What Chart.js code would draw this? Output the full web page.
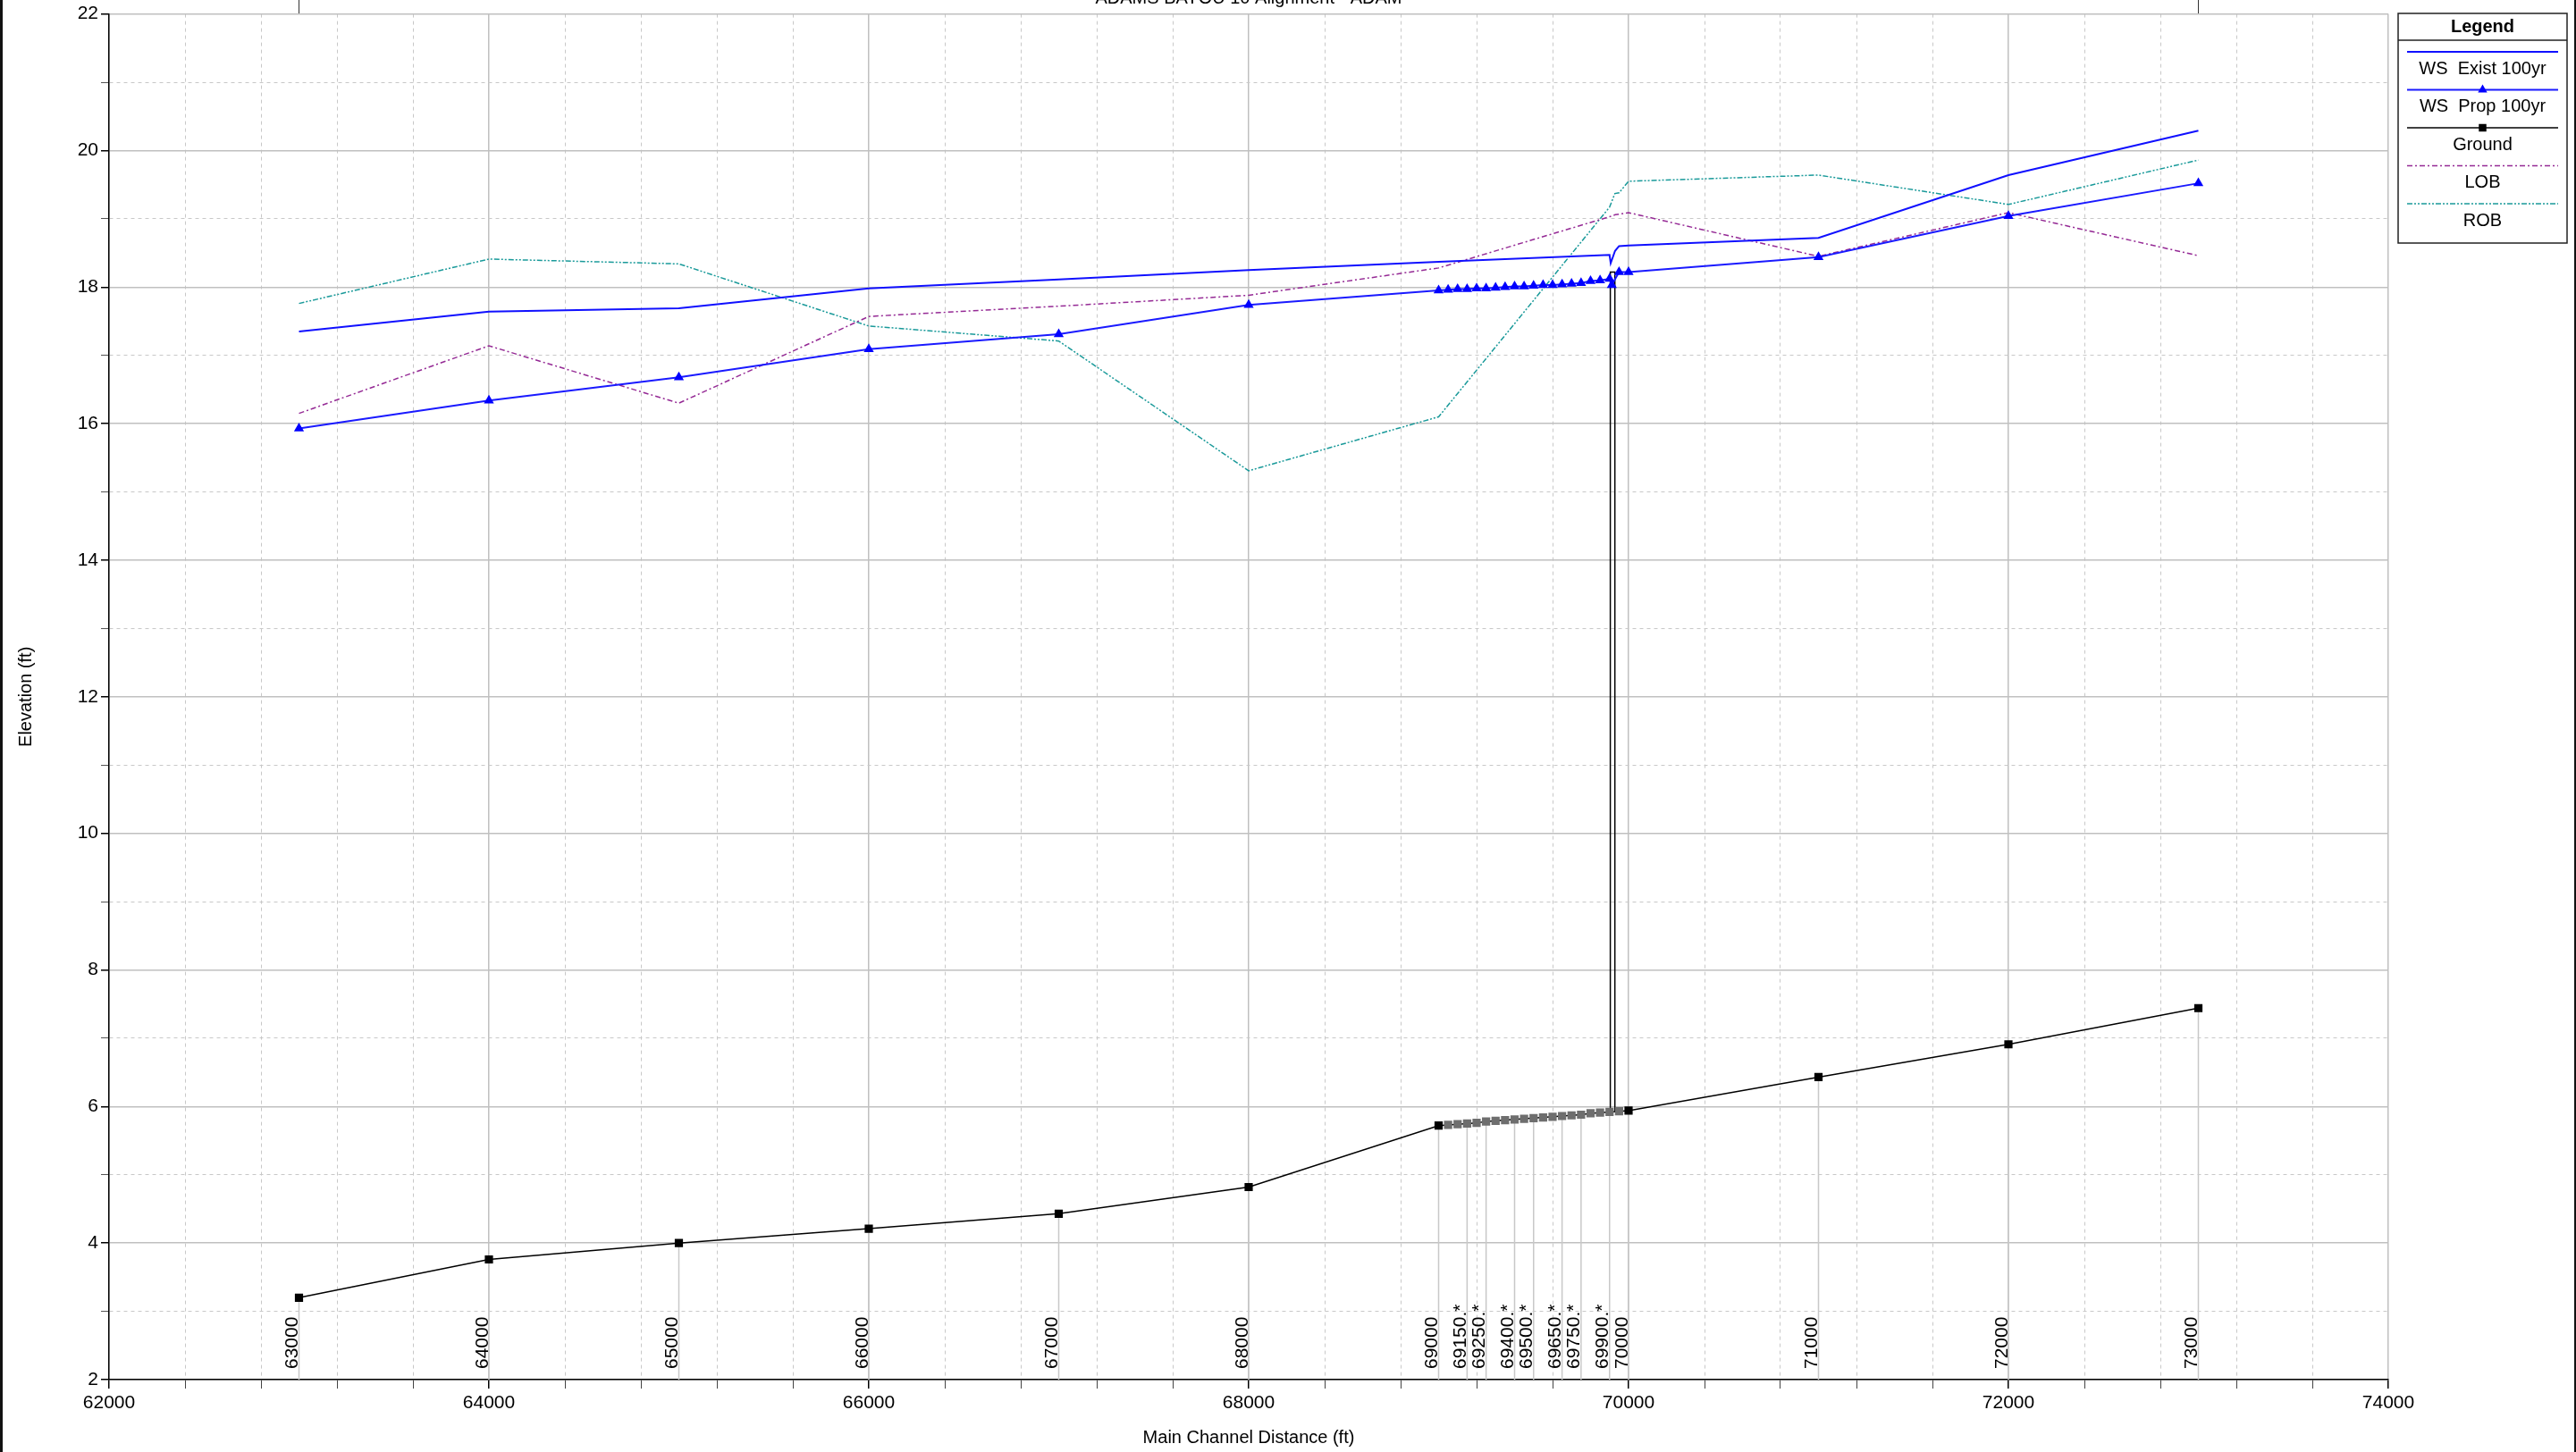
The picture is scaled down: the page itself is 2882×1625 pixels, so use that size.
<!DOCTYPE html>
<html>
<head>
<meta charset="utf-8">
<title>ADAMS BAYOU profile</title>
<script src="https://cdn.jsdelivr.net/npm/chart.js@4.4.1/dist/chart.umd.min.js"></script>
<style>
  html, body { margin: 0; padding: 0; background: #fff; }
  #wrap { width: 2882px; height: 1625px; position: relative; }
</style>
</head>
<body>
<div id="wrap"><canvas id="profileChart" width="2882" height="1625"></canvas></div>
<script>
//  Plot title (only the bottom of it shows on the picture)
const plotTitle = "ADAMS BAYOU 10 Alignment - ADAM";

//  WS Exist 100yr
const existStations = [63000, 64000, 65000, 66000, 67000, 68000, 69000, 69900, 69906, 69929, 69950, 70000, 71000, 72000, 73000];
const existElev = [17.35, 17.64, 17.69, 17.98, 18.11, 18.25, 18.37, 18.47, 18.35, 18.53, 18.60, 18.61, 18.72, 19.64, 20.29];

//  WS Prop 100yr
const propStations = [63000, 64000, 65000, 66000, 67000, 68000, 69000, 69050, 69100, 69150, 69200, 69250, 69300, 69350, 69400, 69450, 69500, 69550, 69600, 69650, 69700, 69750, 69800, 69850, 69900, 69912, 69950, 70000, 71000, 72000, 73000];
const propElev = [15.93, 16.34, 16.68, 17.09, 17.31, 17.74, 17.95, 17.96, 17.97, 17.97, 17.98, 17.98, 17.99, 18.00, 18.01, 18.01, 18.02, 18.03, 18.03, 18.04, 18.05, 18.06, 18.09, 18.10, 18.12, 18.03, 18.22, 18.22, 18.44, 19.04, 19.52];

//  Ground (stations between 69000 and 70000 are interpolated sections)
const groundStations = [63000, 64000, 65000, 66000, 67000, 68000, 69000, 69050, 69100, 69150, 69200, 69250, 69300, 69350, 69400, 69450, 69500, 69550, 69600, 69650, 69700, 69750, 69800, 69850, 69900, 69950, 70000, 71000, 72000, 73000];
const groundElev = [3.20, 3.76, 4.00, 4.21, 4.43, 4.82, 5.72, 5.73, 5.74, 5.75, 5.76, 5.78, 5.79, 5.80, 5.81, 5.82, 5.83, 5.84, 5.85, 5.86, 5.87, 5.88, 5.90, 5.91, 5.92, 5.93, 5.94, 6.43, 6.91, 7.44];

//  Left / right overbank
const lobStations = [63000, 64000, 65000, 66000, 67000, 68000, 69000, 69900, 69930, 70000, 71000, 72000, 73000];
const lobElev = [16.15, 17.14, 16.30, 17.57, 17.72, 17.88, 18.28, 19.03, 19.06, 19.09, 18.45, 19.09, 18.46];
const robStations = [63000, 64000, 65000, 66000, 67000, 68000, 69000, 69900, 69928, 69950, 70000, 71000, 72000, 73000];
const robElev = [17.76, 18.41, 18.34, 17.43, 17.21, 15.31, 16.10, 19.17, 19.37, 19.38, 19.55, 19.64, 19.21, 19.86];

//  Bridge outline
const bridgeStations = [69904, 69904, 69928, 69928];
const bridgeElev = [5.92, 18.22, 18.22, 5.92];

//  Station labels along the bottom
const stationLabels = ["63000", "64000", "65000", "66000", "67000", "68000", "69000", "69150.*", "69250.*", "69400.*", "69500.*", "69650.*", "69750.*", "69900.*", "70000", "71000", "72000", "73000"];

//  Axes
const xMin = 62000, xMax = 74000, xStep = 400, xLabelEvery = 2000;
const yMin = 2, yMax = 22, yStep = 1, yLabelEvery = 2;

const FONT = "'Liberation Sans', Arial, sans-serif";
const pts = (xs, ys) => xs.map((x, i) => ({ x: x, y: ys[i] }));

//  Gray vertical station lines + rotated labels
const stationPlugin = {
    id: "stationLines",
    beforeDatasetsDraw(chart) {
        const { ctx, scales: { x, y } } = chart;
        ctx.save();
        stationLabels.forEach(label => {
            const st = parseFloat(label);
            const px = x.getPixelForValue(st);
            const gi = groundStations.indexOf(st);
            const top = y.getPixelForValue(groundElev[gi]);
            ctx.strokeStyle = "#c8c8c8";
            ctx.lineWidth = 1.5;
            ctx.beginPath();
            ctx.moveTo(px, y.bottom);
            ctx.lineTo(px, top);
            ctx.stroke();

            ctx.save();
            ctx.translate(px - 1.5, y.bottom - 12);
            ctx.rotate(-Math.PI / 2);
            ctx.fillStyle = "#000";
            ctx.font = "21px " + FONT;
            ctx.textAlign = "left";
            ctx.textBaseline = "alphabetic";
            ctx.fillText(label, 0, 0);
            ctx.restore();
        });
        ctx.restore();
    }
};

//  Frame bits, cut-off title and the boxed legend
const framePlugin = {
    id: "frame",
    afterDraw(chart) {
        const ctx = chart.ctx;
        ctx.save();
        // left / right page borders
        ctx.fillStyle = "#111";
        ctx.fillRect(0, 0, 3, 1625);
        ctx.fillRect(2880, 0, 2, 1625);

        // title box sides and text
        ctx.strokeStyle = "#333";
        ctx.lineWidth = 1;
        ctx.beginPath();
        ctx.moveTo(334.5, 0); ctx.lineTo(334.5, 15);
        ctx.moveTo(2459.5, 0); ctx.lineTo(2459.5, 15);
        ctx.stroke();
        ctx.fillStyle = "#000";
        ctx.font = "20px " + FONT;
        ctx.textAlign = "center";
        ctx.textBaseline = "alphabetic";
        ctx.fillText(plotTitle, 1397, 4);

        // legend
        const x0 = 2683, y0 = 15, w = 189, h = 257;
        ctx.fillStyle = "#fff";
        ctx.fillRect(x0, y0, w, h);
        ctx.strokeStyle = "#222";
        ctx.lineWidth = 1.5;
        ctx.strokeRect(x0, y0, w, h);
        ctx.beginPath();
        ctx.moveTo(x0, y0 + 30);
        ctx.lineTo(x0 + w, y0 + 30);
        ctx.stroke();
        ctx.fillStyle = "#000";
        ctx.font = "bold 20px " + FONT;
        ctx.textBaseline = "middle";
        ctx.fillText("Legend", x0 + w / 2, y0 + 15);

        const cx = x0 + w / 2;
        const items = chart.data.datasets.filter(d => d.inLegend !== false);
        items.forEach((ds, i) => {
            const ly = y0 + 43 + i * 42.5;
            ctx.strokeStyle = ds.borderColor;
            ctx.lineWidth = ds.borderWidth;
            ctx.setLineDash(ds.borderDash || []);
            ctx.beginPath();
            ctx.moveTo(x0 + 10, ly);
            ctx.lineTo(x0 + w - 10, ly);
            ctx.stroke();
            ctx.setLineDash([]);
            if (ds.legendMarker) {
                const r = 6;
                ctx.fillStyle = ds.legendMarkerColor;
                ctx.beginPath();
                if (ds.legendMarker === "triangle") {
                    ctx.moveTo(cx, ly - r);
                    ctx.lineTo(cx + r * 0.866, ly + r * 0.5);
                    ctx.lineTo(cx - r * 0.866, ly + r * 0.5);
                    ctx.closePath();
                } else {
                    const s = r * Math.SQRT1_2;
                    ctx.rect(cx - s, ly - s, 2 * s, 2 * s);
                }
                ctx.fill();
            }
            ctx.fillStyle = "#000";
            ctx.font = "20px " + FONT;
            ctx.fillText(ds.label, cx, ly + 19);
        });
        ctx.restore();
    }
};

const isMinor = (c, every) => c.tick && Math.abs(c.tick.value % every) > 1e-6;

new Chart(document.getElementById("profileChart").getContext("2d"), {
    type: "scatter",
    data: {
        datasets: [
            {
                label: "WS  Exist 100yr",
                data: pts(existStations, existElev),
                showLine: true,
                borderColor: "#1010ff",
                borderWidth: 2,
                pointRadius: 0
            },
            {
                label: "WS  Prop 100yr",
                data: pts(propStations, propElev),
                showLine: true,
                borderColor: "#1a1aff",
                borderWidth: 2,
                pointStyle: "triangle",
                pointRadius: 6.5,
                pointBorderWidth: 0,
                pointBackgroundColor: "#0000ff",
                legendMarker: "triangle",
                legendMarkerColor: "#0000ff"
            },
            {
                label: "Ground",
                data: pts(groundStations, groundElev),
                showLine: true,
                borderColor: "#000",
                borderWidth: 1.5,
                pointStyle: "rect",
                pointRadius: 6.5,
                pointBorderWidth: 0,
                pointBackgroundColor: c => {
                    const st = groundStations[c.dataIndex];
                    return (st > 69000 && st < 70000) ? "#6e6e6e" : "#000";
                },
                legendMarker: "rect",
                legendMarkerColor: "#000"
            },
            {
                label: "LOB",
                data: pts(lobStations, lobElev),
                showLine: true,
                borderColor: "#952a95",
                borderWidth: 1.5,
                borderDash: [6, 3, 2, 3],
                pointRadius: 0
            },
            {
                label: "ROB",
                data: pts(robStations, robElev),
                showLine: true,
                borderColor: "#1a9a9a",
                borderWidth: 1.5,
                borderDash: [6, 2, 2, 2, 2, 2],
                pointRadius: 0
            },
            {
                label: "Bridge",
                inLegend: false,
                data: pts(bridgeStations, bridgeElev),
                showLine: true,
                borderColor: "#000",
                borderWidth: 1.5,
                pointRadius: 0
            }
        ]
    },
    options: {
        responsive: false,
        animation: false,
        devicePixelRatio: 1,
        events: [],
        layout: { padding: { top: 15, right: 210, left: 0, bottom: 0 } },
        plugins: {
            legend: { display: false },
            tooltip: { enabled: false }
        },
        scales: {
            x: {
                type: "linear",
                min: xMin,
                max: xMax,
                afterFit: s => { s.height = 81; },
                ticks: {
                    stepSize: xStep,
                    autoSkip: false,
                    maxRotation: 0,
                    padding: 4,
                    color: "#000",
                    font: { family: FONT, size: 21 },
                    callback: v => (v % xLabelEvery === 0 ? String(v) : "")
                },
                grid: {
                    color: c => isMinor(c, xLabelEvery) ? "#c8c8c8" : "#c0c0c0",
                    lineWidth: c => isMinor(c, xLabelEvery) ? 1 : 1.5,
                    tickColor: c => isMinor(c, xLabelEvery) ? "#444" : "#000",
                    tickLength: 10
                },
                border: {
                    color: "#000",
                    width: 1.5,
                    dash: c => isMinor(c, xLabelEvery) ? [4, 4] : []
                },
                title: {
                    display: true,
                    text: "Main Channel Distance (ft)",
                    color: "#000",
                    font: { family: FONT, size: 20 },
                    padding: { top: 0, bottom: 4 }
                }
            },
            y: {
                type: "linear",
                min: yMin,
                max: yMax,
                afterFit: s => { s.width = 122; },
                ticks: {
                    stepSize: yStep,
                    padding: 3,
                    color: "#000",
                    font: { family: FONT, size: 21 },
                    callback: v => (v % yLabelEvery === 0 ? String(v) : "")
                },
                grid: {
                    color: c => isMinor(c, yLabelEvery) ? "#c8c8c8" : "#c0c0c0",
                    lineWidth: c => isMinor(c, yLabelEvery) ? 1 : 1.5,
                    tickColor: c => isMinor(c, yLabelEvery) ? "#555" : "#000",
                    tickLength: 9
                },
                border: {
                    color: "#000",
                    width: 1.5,
                    dash: c => isMinor(c, yLabelEvery) ? [4, 4] : []
                },
                title: {
                    display: true,
                    text: "Elevation (ft)",
                    color: "#000",
                    font: { family: FONT, size: 20 },
                    padding: { top: 17, bottom: 0 }
                }
            }
        }
    },
    plugins: [stationPlugin, framePlugin]
});
</script>
</body>
</html>
